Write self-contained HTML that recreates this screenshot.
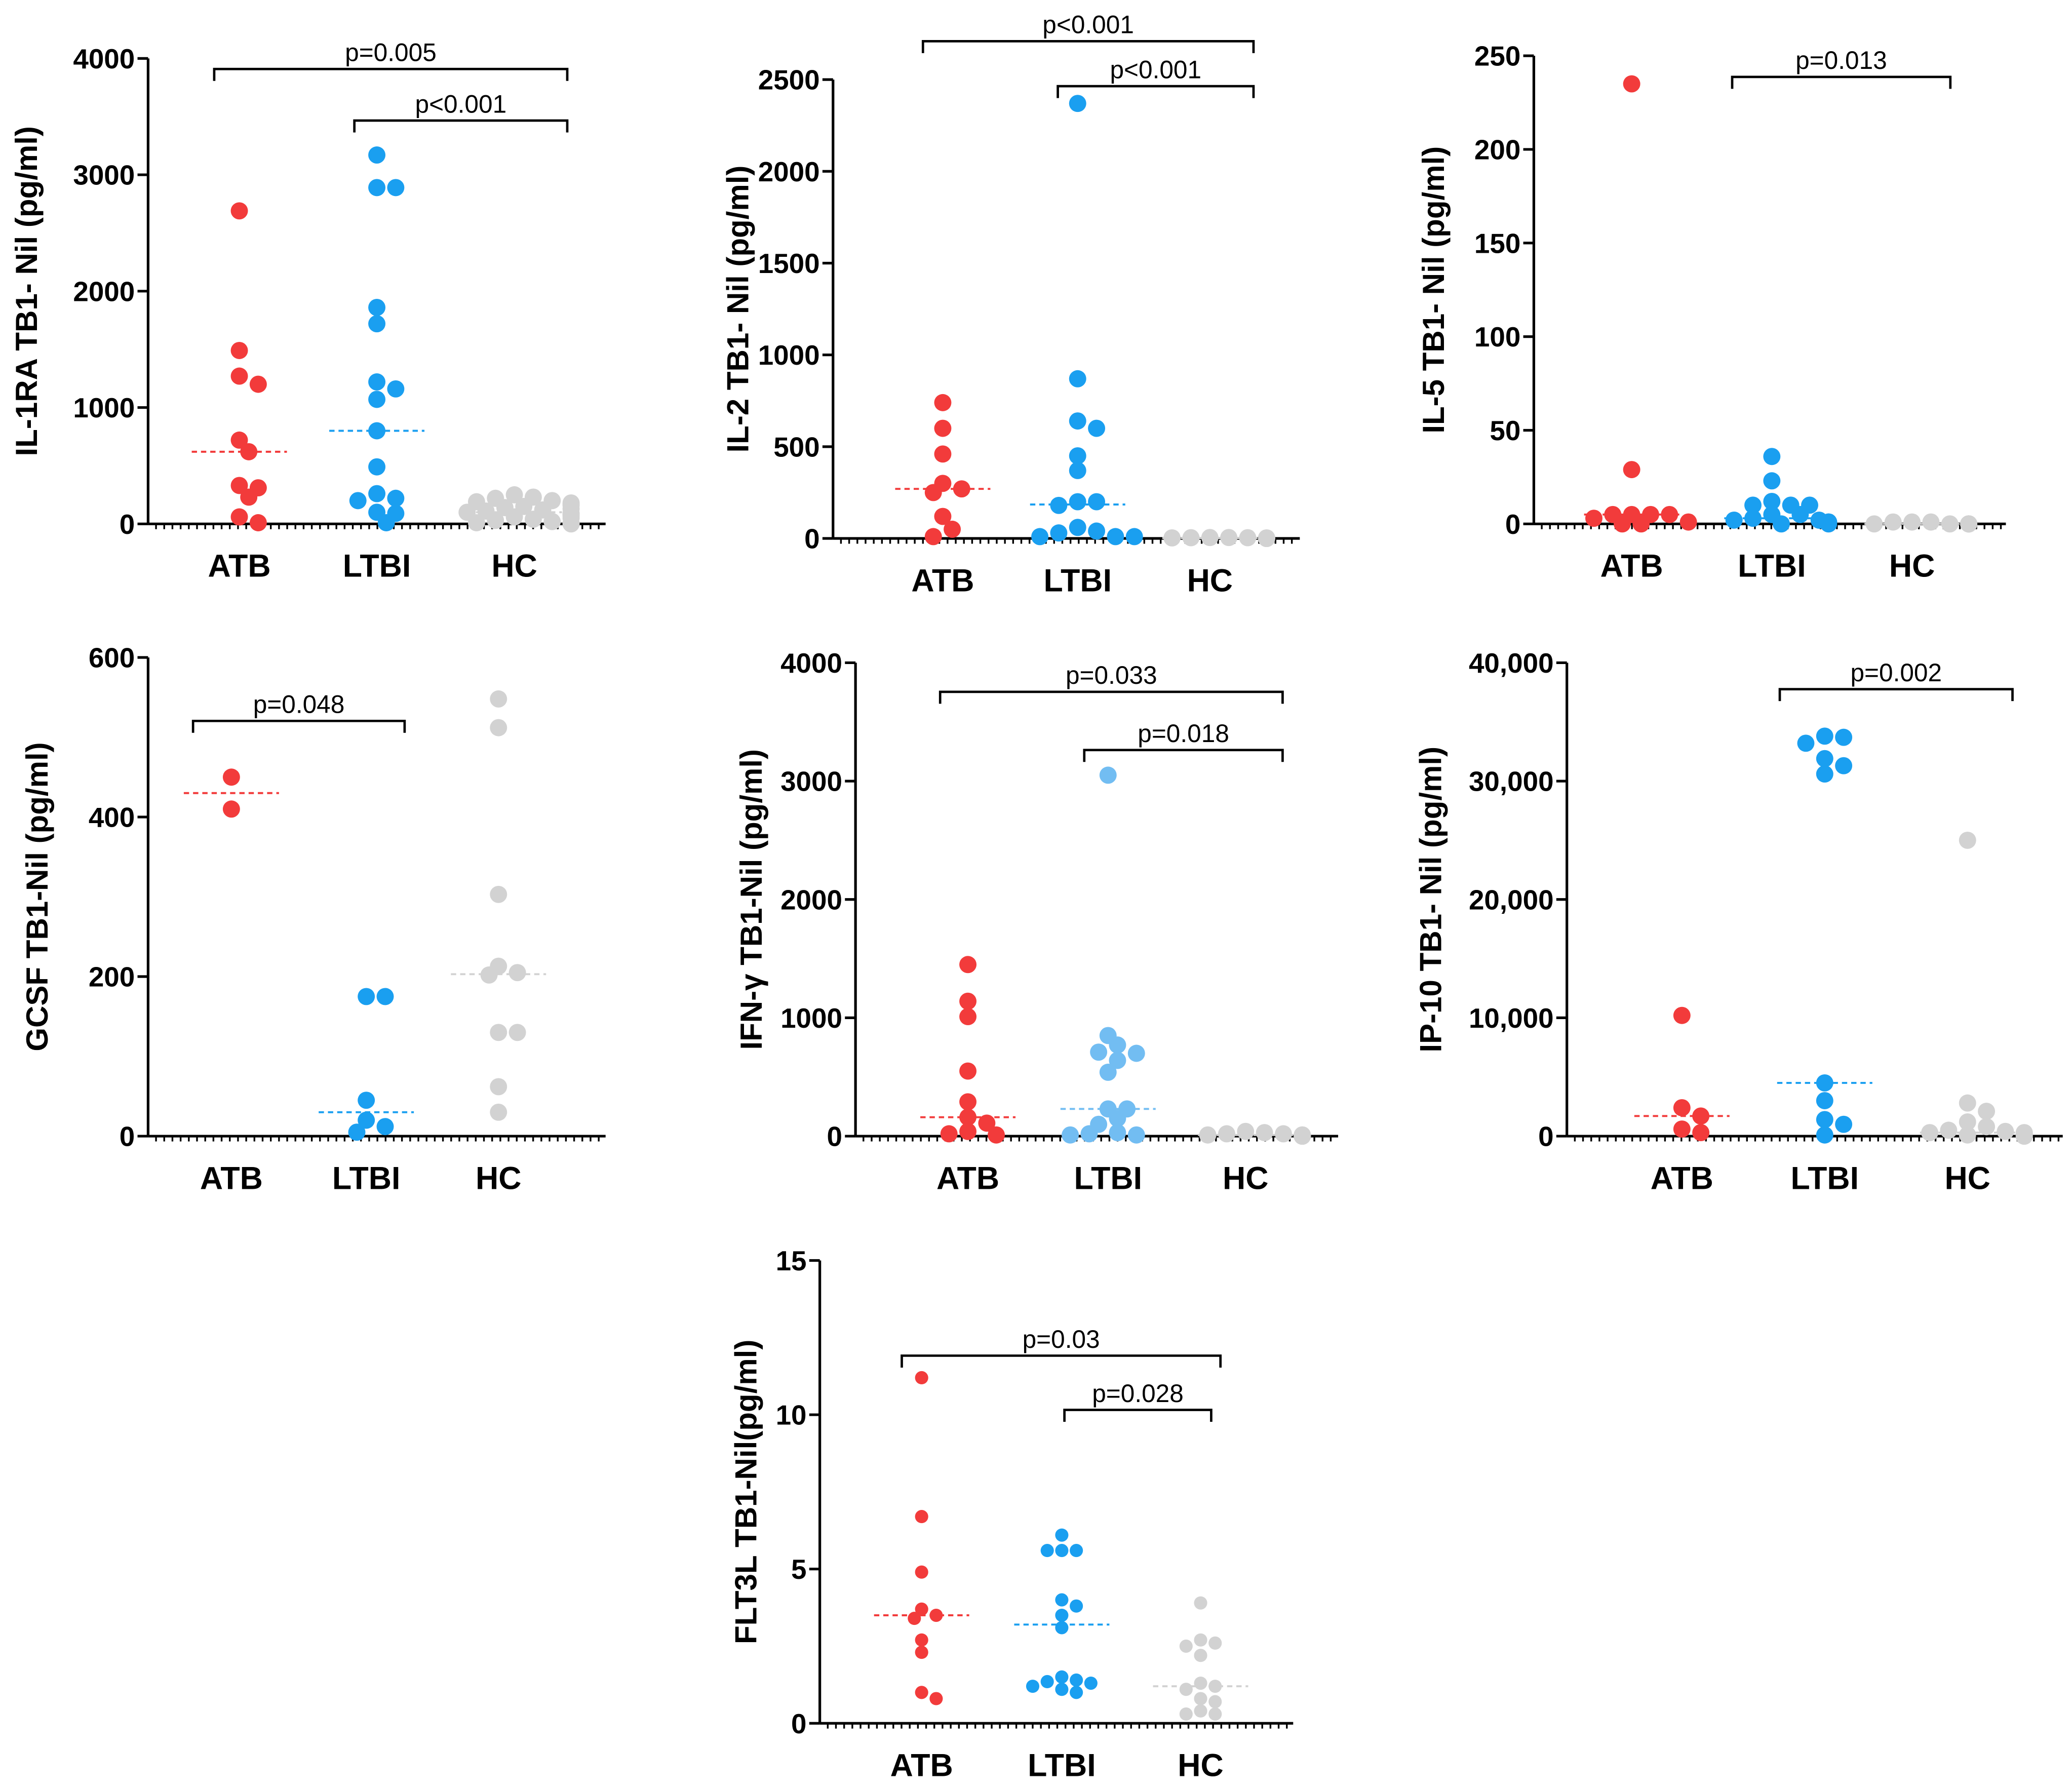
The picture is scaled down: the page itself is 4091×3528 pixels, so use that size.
<!DOCTYPE html>
<html><head><meta charset="utf-8"><style>
html,body{margin:0;padding:0;background:#fff}
svg{display:block}
text{font-family:"Liberation Sans",Arial,sans-serif}
</style></head><body>
<svg id="chart" width="4091" height="3528" viewBox="0 0 1567 1351" xmlns="http://www.w3.org/2000/svg"></svg>
<script>
// ---------- data ----------
const groups = ["ATB","LTBI","HC"];
const titles = ["IL-1RA TB1- Nil (pg/ml)","IL-2 TB1- Nil (pg/ml)","IL-5 TB1- Nil (pg/ml)","GCSF TB1-Nil (pg/ml)","IFN-γ TB1-Nil (pg/ml)","IP-10 TB1- Nil (pg/ml)","FLT3L TB1-Nil(pg/ml)"];
const ticksIL1RA = [0,1000,2000,3000,4000];
const ticksIL2 = [0,500,1000,1500,2000,2500];
const ticksIL5 = [0,50,100,150,200,250];
const ticksGCSF = [0,200,400,600];
const ticksIFN = [0,1000,2000,3000,4000];
const ticksIP10 = [0,10000,20000,30000,40000];
const ticksFLT = [0,5,10,15];

const il1raATB = [2690,1490,1270,1200,720,620,330,310,230,60,10];
const il1raLTBI = [3170,2890,2890,1860,1720,1220,1160,1070,800,490,260,220,200,100,90,10];
const il1raHC = [250,230,220,200,190,180,170,160,150,140,130,120,110,100,90,80,70,60,50,40,30,20,10,5,0];
const il1raMed = [620,800,100];

const il2ATB = [740,600,460,300,270,250,120,50,10];
const il2LTBI = [2370,870,640,600,450,370,200,200,180,60,40,30,10,10,10];
const il2HC = [5,5,4,4,3,3,2,2,1,1,0,0,0,0,0];
const il2Med = [270,185,2];

const il5ATB = [235,29,5,5,5,5,3,1,0,0];
const il5LTBI = [36,23,12,10,10,10,5,5,3,2,2,1,1,0,0];
const il5HC = [1,1,1,0,0,0,0,0,0,0,0,0,0,0];
const il5Med = [5,3,0];

const gcsfATB = [450,410];
const gcsfLTBI = [175,175,45,20,12,5];
const gcsfHC = [548,512,303,213,205,202,130,130,62,30];
const gcsfMed = [430,30,203];

const ifnATB = [1450,1140,1010,550,290,160,110,40,20,10];
const ifnLTBI = [3050,850,770,710,700,640,540,230,230,150,100,30,20,10,10];
const ifnHC = [40,30,20,20,10,10,10,5,5,0,0,0,0];
const ifnMed = [160,230,10];

const ip10ATB = [10200,2400,1700,600,300];
const ip10LTBI = [33800,33700,33200,31900,31300,30600,4500,3000,1400,1000,100];
const ip10HC = [25000,2800,2100,1200,800,500,400,300,300,200,200,100,100,0,0];
const ip10Med = [1700,4500,300];

const fltATB = [11.2,6.7,4.9,3.7,3.5,3.4,2.7,2.3,1.0,0.8];
const fltLTBI = [6.1,5.6,5.6,5.6,4.0,3.8,3.5,3.1,1.5,1.4,1.35,1.3,1.2,1.1,1.0];
const fltHC = [3.9,2.7,2.6,2.5,2.2,1.3,1.2,1.1,0.8,0.7,0.4,0.3,0.3];
const fltMed = [3.5,3.2,1.2];

// ---------- layout ----------
const NS="http://www.w3.org/2000/svg";
const svg=document.getElementById('chart');
function el(tag,attrs,parent){const e=document.createElementNS(NS,tag);for(const k in attrs)e.setAttribute(k,attrs[k]);(parent||svg).appendChild(e);return e;}
const colors=["#f23b3b","#1a9ff0","#d2d2d2"];
function fmt(v,comma){return comma? v.toLocaleString('en-US'):String(v);}

const panels=[
 {name:"il1ra",ax:112,y0:396,yTop:44,xEnd:458,cx:[181,285,389],ticks:ticksIL1RA,data:[il1raATB,il1raLTBI,il1raHC],med:il1raMed,tx:20,r:6.5,
  br:[[162,429,52,"p=0.005"],[268,429,91,"p<0.001"]]},
 {name:"il2",ax:630,y0:407,yTop:60,xEnd:983,cx:[713,815,915],ticks:ticksIL2,data:[il2ATB,il2LTBI,il2HC],med:il2Med,tx:558,r:6.5,
  br:[[698,948,31,"p<0.001"],[800,948,65,"p<0.001"]]},
 {name:"il5",ax:1160,y0:396,yTop:42,xEnd:1517,cx:[1234,1340,1446],ticks:ticksIL5,data:[il5ATB,il5LTBI,il5HC],med:il5Med,tx:1084,r:6.5,
  br:[[1310,1475,58,"p=0.013"]]},
 {name:"gcsf",ax:112,y0:859,yTop:497,xEnd:458,cx:[175,277,377],ticks:ticksGCSF,data:[gcsfATB,gcsfLTBI,gcsfHC],med:gcsfMed,tx:28,r:6.5,
  br:[[146,306,545,"p=0.048"]]},
 {name:"ifn-gamma",ax:647,y0:859,yTop:501,xEnd:1012,cx:[732,838,942],ticks:ticksIFN,data:[ifnATB,ifnLTBI,ifnHC],med:ifnMed,tx:568,r:6.5,colors:["#f23b3b","#72bdf2","#d2d2d2"],
  br:[[711,970,523,"p=0.033"],[820,970,567,"p=0.018"]]},
 {name:"ip10",ax:1185,y0:859,yTop:501,xEnd:1560,cx:[1272,1380,1488],ticks:ticksIP10,data:[ip10ATB,ip10LTBI,ip10HC],med:ip10Med,tx:1082,r:6.5,comma:true,
  br:[[1346,1522,521,"p=0.002"]]},
 {name:"flt3l",ax:620,y0:1303,yTop:953,xEnd:978,cx:[697,803,908],ticks:ticksFLT,data:[fltATB,fltLTBI,fltHC],med:fltMed,tx:564,r:5,
  br:[[682,923,1025,"p=0.03"],[805,916,1066,"p=0.028"]]}
];

panels.forEach((p,pi)=>{
  const g=el('g',{});
  
  
  const maxT=p.ticks[p.ticks.length-1];
  const y=v=>p.y0-(v/maxT)*(p.y0-p.yTop);
  const cols=p.colors||colors;
  const ya=el('line',{x1:p.ax,y1:p.yTop,x2:p.ax,y2:p.y0,stroke:'#000','stroke-width':2},g);
  
  
  p.ticks.forEach(t=>{
    el('line',{x1:p.ax-8,y1:y(t),x2:p.ax,y2:y(t),stroke:'#000','stroke-width':2},g);
    const tl=el('text',{x:p.ax-10,y:y(t)+7.5,'text-anchor':'end','font-size':21,'font-weight':'bold'},g);
    tl.textContent=fmt(t,p.comma);
    
    
  });
  const xa=el('line',{x1:p.ax,y1:p.y0,x2:p.xEnd,y2:p.y0,stroke:'#000','stroke-width':2},g);
  
  
  for(let x=p.ax+6;x<=p.xEnd;x+=6.2){el('line',{x1:x,y1:p.y0,x2:x,y2:p.y0+4,stroke:'#000','stroke-width':1.3},g);}
  groups.forEach((gname,gi)=>{
    const cl=el('text',{x:p.cx[gi],y:p.y0+40,'text-anchor':'middle','font-size':24,'font-weight':'bold'},g);
    cl.textContent=gname;
    
    
  });
  const cy=(p.y0+p.yTop)/2;
  const tt=el('text',{x:p.tx,y:cy,'text-anchor':'middle','font-size':23,'font-weight':'bold',transform:`rotate(-90 ${p.tx} ${cy})`,dy:8},g);
  tt.textContent=titles[pi];
  
  
  p.data.forEach((vals,gi)=>{
    const placed=[];
    const sorted=vals.slice().sort((a,b)=>b-a);
    sorted.forEach(v=>{
      const py=y(v);
      let off=0;
      for(let k=0;k<40;k++){
        const c=(k===0?0:(k%2?1:-1)*Math.ceil(k/2)*p.r*1.1);
        const ok=placed.every(q=>Math.hypot(q[0]-c,q[1]-py)>=p.r*1.5);
        if(ok||Math.abs(c)>38){off=c;break;}
        off=c;
      }
      placed.push([off,py]);
      const dot=el('circle',{cx:p.cx[gi]+off,cy:py,r:p.r,fill:cols[gi]},g);
      
      
    });
    const m=el('line',{x1:p.cx[gi]-36,y1:y(p.med[gi]),x2:p.cx[gi]+36,y2:y(p.med[gi]),stroke:cols[gi],'stroke-width':1.5,'stroke-dasharray':'4 3'},g);
    
    
  });
  p.br.forEach(b=>{
    const br=el('path',{d:`M${b[0]} ${b[2]+9}V${b[2]}H${b[1]}V${b[2]+9}`,fill:'none',stroke:'#000','stroke-width':1.8},g);
    
    
    const pt=el('text',{x:(b[0]+b[1])/2,y:b[2]-6,'text-anchor':'middle','font-size':19},g);
    pt.textContent=b[3];
    
    
  });
});
</script>
</body></html>
